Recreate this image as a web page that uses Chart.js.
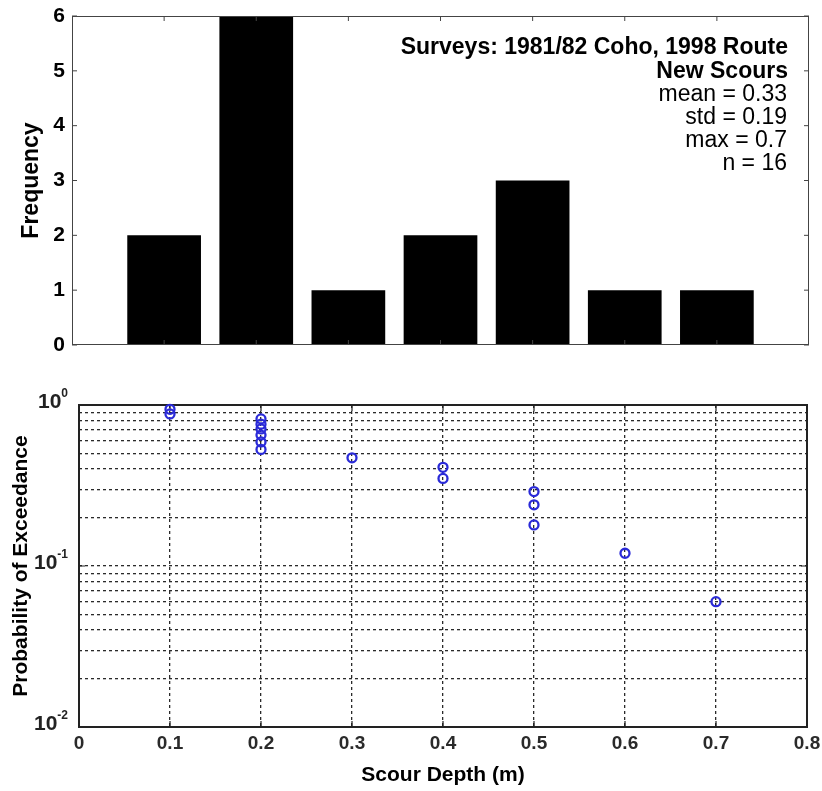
<!DOCTYPE html>
<html>
<head>
<meta charset="utf-8">
<title>New Scours</title>
<script src="https://cdn.jsdelivr.net/npm/chart.js@4.4.1/dist/chart.umd.min.js"></script>
<style>
  body { margin: 0; background: #fff; overflow: hidden; }
  #wrap { position: relative; width: 822px; height: 791px; }
  canvas { position: absolute; left: 0; }
</style>
</head>
<body>
<div id="wrap">
  <canvas id="histChart" width="822" height="360" style="top:0"></canvas>
  <canvas id="probChart" width="822" height="431" style="top:360px"></canvas>
</div>
<script>
// histogram bins (m) and counts
const binCenters = [0.1, 0.2, 0.3, 0.4, 0.5, 0.6, 0.7];
const frequencies = [2, 6, 1, 2, 3, 1, 1];

// exceedance points
const scourDepths = [0.1, 0.1, 0.2, 0.2, 0.2, 0.2, 0.2, 0.2, 0.3, 0.4, 0.4, 0.5, 0.5, 0.5, 0.6, 0.7];
const exceedance = [0.94, 0.88, 0.82, 0.76, 0.71, 0.65, 0.59, 0.53, 0.47, 0.41, 0.35, 0.29, 0.24, 0.18, 0.12, 0.06];

const xTickValues = [0, 0.1, 0.2, 0.3, 0.4, 0.5, 0.6, 0.7, 0.8];
const xTickLabels = ["0", "0.1", "0.2", "0.3", "0.4", "0.5", "0.6", "0.7", "0.8"];
const freqTicks = [0, 1, 2, 3, 4, 5, 6];
const logGrid = [0.01, 0.02, 0.03, 0.04, 0.05, 0.06, 0.07, 0.08, 0.09,
                 0.1, 0.2, 0.3, 0.4, 0.5, 0.6, 0.7, 0.8, 0.9, 1];
const logMajor = [0.01, 0.1, 1];
const logExponents = ["-2", "-1", "0"];

const boldLines = ["Surveys: 1981/82 Coho, 1998 Route", "New Scours"];
const statLines = ["mean = 0.33", "std = 0.19", "max = 0.7", "n = 16"];

const FAMILY = "'Liberation Sans', Arial, Helvetica, sans-serif";

// frame, inward ticks and the stats text for the histogram
const histExtras = {
    id: "histExtras",
    afterDraw(chart) {
        const ctx = chart.ctx;
        const a = chart.chartArea;
        const xs = chart.scales.x, ys = chart.scales.y;
        ctx.save();
        ctx.strokeStyle = "#444";
        ctx.lineWidth = 1;
        ctx.strokeRect(a.left + 0.5, a.top + 0.5, a.right - a.left - 1, a.bottom - a.top - 1);
        ctx.beginPath();
        freqTicks.forEach(v => {
            const y = ys.getPixelForValue(v);
            ctx.moveTo(a.left, y); ctx.lineTo(a.left + 5, y);
            ctx.moveTo(a.right, y); ctx.lineTo(a.right - 5, y);
        });
        binCenters.forEach(v => {
            const x = xs.getPixelForValue(v);
            ctx.moveTo(x, a.top); ctx.lineTo(x, a.top + 5);
            ctx.moveTo(x, a.bottom); ctx.lineTo(x, a.bottom - 5);
        });
        ctx.stroke();

        ctx.fillStyle = "#000";
        ctx.textAlign = "right";
        ctx.textBaseline = "middle";
        let y = 48;
        ctx.font = "bold 23px " + FAMILY;
        boldLines.forEach(t => { ctx.fillText(t, 788, y); y += 23.5; });
        ctx.font = "23px " + FAMILY;
        statLines.forEach(t => { ctx.fillText(t, 787, y); y += 23; });
        ctx.restore();
    }
};

// box, inward ticks and 10^n labels for the probability plot
const probExtras = {
    id: "probExtras",
    beforeDatasetsDraw(chart) {
        const ctx = chart.ctx;
        const a = chart.chartArea;
        const xs = chart.scales.x, ys = chart.scales.y;
        ctx.save();
        ctx.strokeStyle = "#222";
        ctx.lineWidth = 2;
        ctx.strokeRect(a.left, a.top, a.right - a.left, a.bottom - a.top);
        ctx.lineWidth = 1.2;
        ctx.beginPath();
        xTickValues.forEach(v => {
            const x = xs.getPixelForValue(v);
            ctx.moveTo(x, a.top); ctx.lineTo(x, a.top + 6);
            ctx.moveTo(x, a.bottom); ctx.lineTo(x, a.bottom - 6);
        });
        logMajor.forEach(v => {
            const y = ys.getPixelForValue(v);
            ctx.moveTo(a.left, y); ctx.lineTo(a.left + 6, y);
            ctx.moveTo(a.right, y); ctx.lineTo(a.right - 6, y);
        });
        ctx.stroke();
        ctx.restore();
    },
    afterDraw(chart) {
        const ctx = chart.ctx;
        const ys = chart.scales.y;
        const right = chart.chartArea.left - 11;
        ctx.save();
        ctx.fillStyle = "#222";
        ctx.textBaseline = "middle";
        ctx.textAlign = "right";
        logMajor.forEach((v, i) => {
            const y = ys.getPixelForValue(v) - 3;
            ctx.font = "bold 12px " + FAMILY;
            const ew = ctx.measureText(logExponents[i]).width;
            ctx.fillText(logExponents[i], right, y - 8);
            ctx.font = "bold 21px " + FAMILY;
            ctx.fillText("10", right - ew, y);
        });
        ctx.restore();
    }
};

new Chart("histChart", {
    type: "bar",
    data: {
        datasets: [{
            data: binCenters.map((x, i) => ({ x: x, y: frequencies[i] })),
            backgroundColor: "#000",
            borderWidth: 0,
            barPercentage: 0.8,
            categoryPercentage: 1.0
        }]
    },
    options: {
        responsive: false,
        animation: false,
        layout: { padding: { top: 16, right: 13, bottom: 15, left: 0 } },
        plugins: { legend: { display: false }, tooltip: { enabled: false } },
        scales: {
            x: { type: "linear", min: 0, max: 0.8, offset: false, display: false },
            y: {
                min: 0, max: 6,
                afterBuildTicks(s) { s.ticks = freqTicks.map(v => ({ value: v })); },
                ticks: { color: "#000", padding: 7, font: { family: FAMILY, size: 21, weight: "bold" } },
                grid: { display: false, drawTicks: false },
                border: { display: false },
                title: {
                    display: true, text: "Frequency", color: "#000",
                    padding: { top: 18, bottom: 0 },
                    font: { family: FAMILY, size: 23, weight: "bold" }
                },
                afterFit(s) { s.width = 72; s.paddingTop = 0; s.paddingBottom = 0; }
            }
        }
    },
    plugins: [histExtras]
});

new Chart("probChart", {
    type: "scatter",
    data: {
        datasets: [{
            data: scourDepths.map((x, i) => ({ x: x, y: exceedance[i] })),
            pointStyle: "circle",
            pointRadius: 4.5,
            borderWidth: 2.3,
            borderColor: "#2a2ad8",
            backgroundColor: "rgba(0,0,0,0)",
            clip: false
        }]
    },
    options: {
        responsive: false,
        animation: false,
        layout: { padding: { top: 45, right: 15, bottom: 0, left: 0 } },
        plugins: { legend: { display: false }, tooltip: { enabled: false } },
        scales: {
            x: {
                type: "linear", min: 0, max: 0.8,
                afterBuildTicks(s) { s.ticks = xTickValues.map(v => ({ value: v })); },
                ticks: {
                    color: "#2a2a2a", padding: 5, maxRotation: 0, autoSkip: false,
                    font: { family: FAMILY, size: 19, weight: "bold" },
                    callback: (v, i) => xTickLabels[i]
                },
                grid: { color: "#2a2a2a", lineWidth: 1.3, drawTicks: false },
                border: { display: false, dash: [3, 3] },
                title: {
                    display: true, text: "Scour Depth (m)", color: "#000",
                    padding: { top: 0, bottom: 3 },
                    font: { family: FAMILY, size: 21, weight: "bold" }
                },
                afterFit(s) { s.height = 64; s.paddingLeft = 0; s.paddingRight = 0; }
            },
            y: {
                type: "logarithmic", min: 0.01, max: 1,
                afterBuildTicks(s) { s.ticks = logGrid.map(v => ({ value: v })); },
                ticks: { display: false },
                grid: { color: "#2a2a2a", lineWidth: 1.3, drawTicks: false },
                border: { display: false, dash: [3, 3] },
                title: {
                    display: true, text: "Probability of Exceedance", color: "#000",
                    padding: { top: 9, bottom: 0 },
                    font: { family: FAMILY, size: 21, weight: "bold" }
                },
                afterFit(s) { s.width = 79; }
            }
        }
    },
    plugins: [probExtras]
});
</script>
</body>
</html>
